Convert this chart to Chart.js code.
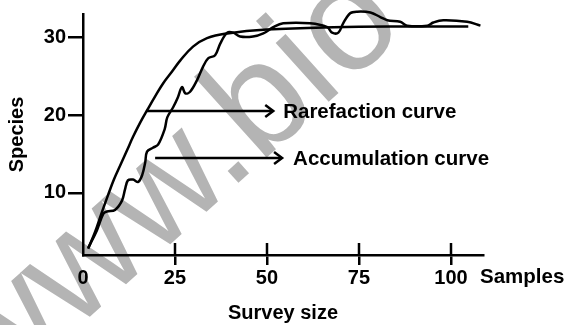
<!DOCTYPE html>
<html>
<head>
<meta charset="utf-8">
<script src="https://cdn.jsdelivr.net/npm/chart.js@4.4.1/dist/chart.umd.min.js"></script>
<style>
html,body{margin:0;padding:0;background:#fff;}
#wrap{width:566px;height:325px;position:relative;}
</style>
</head>
<body>
<div id="wrap"><canvas id="c" width="566" height="325"></canvas></div>
<script>
// ---- data ----
const rarefactionX = [1.4, 3.3, 4.9, 6.8, 8.4, 10.1, 12.0, 13.6, 15.5, 17.4, 19.6, 21.8, 24.2, 26.4, 29.9, 33.7, 39.2, 50.0, 68.0, 86.2, 104.7];
const rarefactionY = [2.8, 5.0, 7.2, 9.7, 11.7, 13.5, 15.5, 17.2, 19.0, 20.6, 22.4, 24.1, 25.6, 27.0, 28.8, 29.9, 30.5, 31.0, 31.3, 31.4, 31.4];
const accumulationX = [1.4, 3.8, 5.5, 6.5, 8.7, 10.6, 11.4, 12.2, 13.6, 15.0, 16.1, 16.9, 17.4, 19.0, 20.4, 22.2, 22.9, 24.5, 25.8, 26.9, 27.8, 29.1, 31.0, 32.6, 34.0, 35.9, 37.3, 39.2, 40.8, 42.7, 46.2, 49.0, 51.7, 54.4, 61.7, 66.4, 67.7, 69.4, 70.7, 72.6, 74.5, 78.1, 80.8, 82.7, 86.2, 88.1, 93.6, 95.2, 97.9, 104.4, 108.0];
const accumulationY = [2.9, 5.2, 7.3, 7.6, 7.8, 9.0, 10.4, 11.6, 11.7, 11.4, 12.3, 13.9, 15.3, 15.8, 16.2, 18.2, 19.7, 21.0, 22.3, 23.6, 22.8, 23.0, 24.5, 26.2, 27.3, 27.7, 29.2, 30.6, 30.6, 30.1, 30.1, 30.5, 31.3, 31.8, 31.8, 31.3, 30.6, 30.6, 31.8, 33.1, 33.3, 33.2, 32.6, 32.2, 32.0, 31.5, 31.5, 31.9, 32.2, 32.0, 31.5];
const xTicks = [0, 25, 50, 75, 100];
const yTicks = [10, 20, 30];
const seriesNames = ['Rarefaction curve', 'Accumulation curve'];
const xTitle = 'Survey size';
const yTitle = 'Species';
const xUnit = 'Samples';
const watermarkText = 'www.bio';

// callout arrows (in data units)
const callouts = [
  {label: seriesNames[0], from: 17.1, to: 51.7, at: 20.5, textAt: 54.4},
  {label: seriesNames[1], from: 19.6, to: 54.1, at: 14.5, textAt: 57.1}
];

const FONT = '"Liberation Sans", Arial, Helvetica, sans-serif';
const toPts = (xs, ys) => xs.map((v, i) => ({x: v, y: ys[i]}));

const extras = {
  id: 'extras',
  beforeDraw(chart) {
    const ctx = chart.ctx;
    ctx.save();
    ctx.fillStyle = '#fff';
    ctx.fillRect(0, 0, chart.width, chart.height);
    ctx.translate(-7, 404);
    ctx.rotate(-42 * Math.PI / 180);
    ctx.font = '150px ' + FONT;
    ctx.fillStyle = '#b4b4b4';
    ctx.textBaseline = 'alphabetic';
    ctx.textAlign = 'left';
    ctx.fillText(watermarkText, 0, 0);
    ctx.restore();
  },
  afterDatasetsDraw(chart) {
    const {ctx, scales: {x, y}} = chart;
    ctx.save();
    ctx.strokeStyle = '#000';
    ctx.fillStyle = '#000';
    ctx.lineWidth = 2.5;
    const axisY = y.bottom;
    xTicks.forEach(v => {
      if (v === 0) return;
      const px = Math.round(x.getPixelForValue(v));
      ctx.beginPath();
      ctx.moveTo(px, axisY);
      ctx.lineTo(px, axisY - 12);
      ctx.stroke();
    });
    ctx.font = 'bold 20.5px ' + FONT;
    ctx.textAlign = 'left';
    ctx.textBaseline = 'middle';
    callouts.forEach(c => {
      const x0 = x.getPixelForValue(c.from);
      const x1 = x.getPixelForValue(c.to);
      const py = Math.round(y.getPixelForValue(c.at));
      ctx.beginPath();
      ctx.moveTo(x0, py);
      ctx.lineTo(x1, py);
      ctx.stroke();
      ctx.beginPath();
      ctx.moveTo(x1 - 8, py - 6);
      ctx.lineTo(x1, py);
      ctx.lineTo(x1 - 8, py + 6);
      ctx.stroke();
      ctx.fillText(c.label, x.getPixelForValue(c.textAt), py + 1);
    });
    ctx.fillText(xUnit, x.right - 3, axisY + 22);
    ctx.restore();
  }
};

new Chart(document.getElementById('c'), {
  type: 'line',
  data: {
    datasets: [
      {
        label: seriesNames[0],
        data: toPts(rarefactionX, rarefactionY),
        borderColor: '#000',
        borderWidth: 2.5,
        pointRadius: 0,
        fill: false,
        tension: 0.4,
        clip: false
      },
      {
        label: seriesNames[1],
        data: toPts(accumulationX, accumulationY),
        borderColor: '#000',
        borderWidth: 2.5,
        pointRadius: 0,
        fill: false,
        tension: 0.35,
        clip: false
      }
    ]
  },
  options: {
    responsive: false,
    animation: false,
    devicePixelRatio: 1,
    layout: {padding: {top: 14, right: 83, left: 0, bottom: 0}},
    plugins: {legend: {display: false}, tooltip: {enabled: false}},
    scales: {
      x: {
        type: 'linear',
        min: 0,
        max: 108.7,
        afterBuildTicks: s => { s.ticks = xTicks.map(v => ({value: v})); },
        afterFit: s => { s.height = 70; },
        border: {display: true, color: '#000', width: 2.5},
        grid: {
          drawOnChartArea: false,
          drawTicks: true,
          tickLength: 10,
          lineWidth: 2.5,
          color: c => (c.tick && c.tick.value === 0) ? 'rgba(0,0,0,0)' : '#000'
        },
        ticks: {
          color: '#000',
          font: {family: FONT, size: 20, weight: 'bold'},
          padding: 1,
          maxRotation: 0,
          autoSkip: false
        },
        title: {
          display: true,
          text: xTitle,
          color: '#000',
          font: {family: FONT, size: 20, weight: 'bold'},
          padding: {top: 0, bottom: 0}
        }
      },
      y: {
        type: 'linear',
        min: 2,
        max: 33,
        afterBuildTicks: s => { s.ticks = yTicks.map(v => ({value: v})); },
        afterFit: s => { s.width = 83; },
        border: {display: true, color: '#000', width: 2.5},
        grid: {
          drawOnChartArea: false,
          drawTicks: true,
          tickLength: 15,
          lineWidth: 2.5,
          color: '#000'
        },
        ticks: {
          color: '#000',
          font: {family: FONT, size: 20, weight: 'bold'},
          padding: 2
        },
        title: {
          display: true,
          text: yTitle,
          color: '#000',
          font: {family: FONT, size: 20, weight: 'bold'},
          padding: {top: 5, bottom: 0}
        }
      }
    }
  },
  plugins: [extras]
});
</script>
</body>
</html>
